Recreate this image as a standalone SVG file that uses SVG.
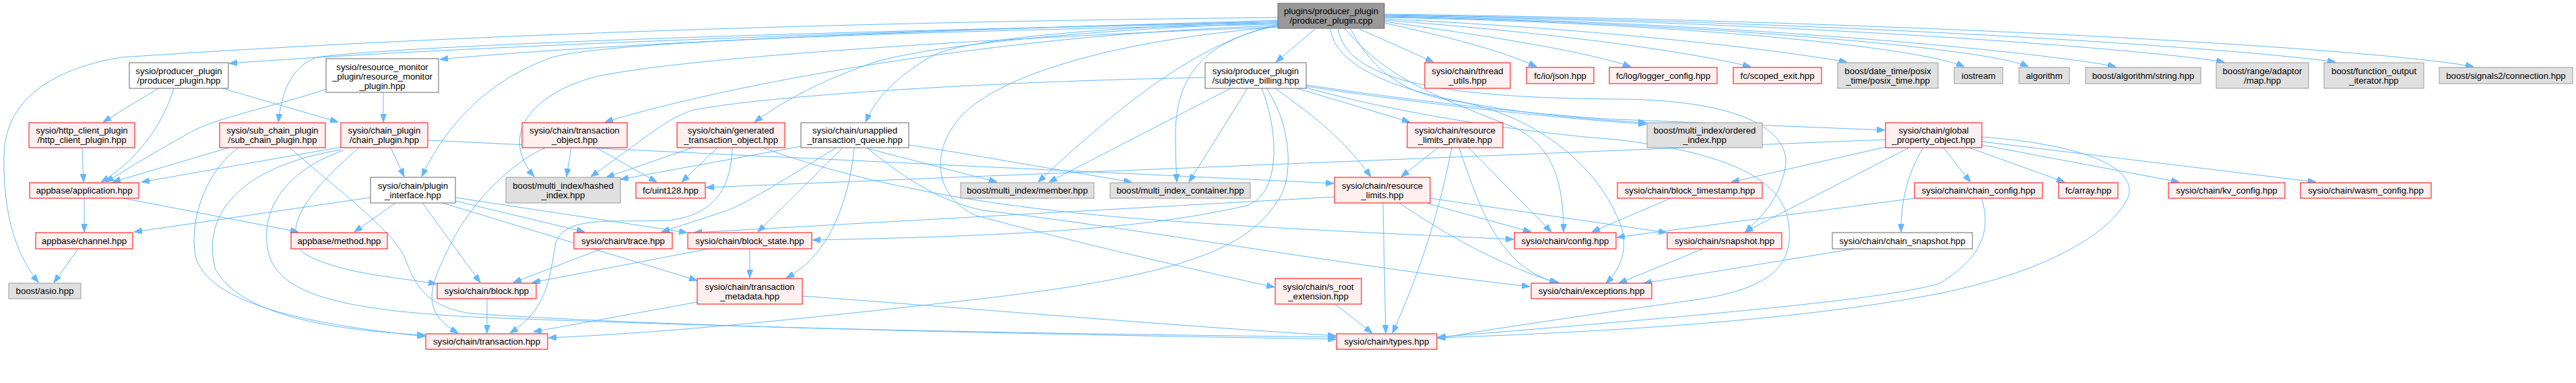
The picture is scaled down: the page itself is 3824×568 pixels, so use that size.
<svg xmlns="http://www.w3.org/2000/svg" width="3824" height="568" viewBox="0 0 3824 568">
<style>
.r{fill:#fff0f0;stroke:#ff0000;stroke-width:1}
.g{fill:#e0e0e0;stroke:#999999;stroke-width:1}
.w{fill:#ffffff;stroke:#666666;stroke-width:1}
.m{fill:#999999;stroke:#666666;stroke-width:1}
text{font-family:"Liberation Sans",Arial,sans-serif;font-size:13.2px;text-anchor:middle;fill:#000}
#edges path{fill:none;stroke:#63b8ff;stroke-width:1;marker-end:url(#ah)}
</style>
<defs>
<marker id="ah" viewBox="0 0 12 9" refX="12" refY="4.5" markerWidth="12" markerHeight="9" markerUnits="userSpaceOnUse" orient="auto">
<path d="M0,0 L12,4.5 L0,9 z" fill="#63b8ff" stroke="#63b8ff" stroke-width="1"/>
</marker>
</defs>
<rect width="3824" height="568" fill="#ffffff"/>
<g id="edges">
<path d="M1897,30 C1600,40 800,60 340,94"/>
<path d="M1897,26 C1300,32 700,50 180,85 C90,100 8,140 6,230 C4,330 30,385 57,419"/>
<path d="M1897,32 C1400,42 900,65 653,88"/>
<path d="M1897,34 C1300,44 620,65 470,85 C430,100 418,140 413,181"/>
<path d="M1897,36 C1300,48 900,62 820,85 C720,120 660,190 626,262"/>
<path d="M1897,38 C1500,50 1100,120 898,181"/>
<path d="M1897,40 C1500,55 1000,85 880,115 C790,140 740,200 793,262"/>
<path d="M1897,34 C1600,44 1360,70 1290,95 C1220,120 1170,145 1120,181"/>
<path d="M1897,32 C1600,42 1420,60 1380,85 C1330,115 1300,145 1285,181"/>
<path d="M1897,36 C1800,60 1700,120 1541,270"/>
<path d="M1897,38 C1790,60 1745,110 1745,200 C1745,230 1746,250 1747,270"/>
<path d="M1897,40 C1650,60 1500,110 1440,160 C1380,210 1380,290 1450,320 C1600,360 1750,395 1892,426"/>
<path d="M1952,43 L1894,92"/>
<path d="M2018,43 L2128,92"/>
<path d="M2055,34 C2150,55 2230,75 2281,99"/>
<path d="M2055,32 C2200,52 2350,75 2421,99"/>
<path d="M2055,30 C2300,48 2500,75 2599,99"/>
<path d="M2055,28 C2350,42 2600,68 2742,92"/>
<path d="M2055,26 C2500,34 2850,70 2916,99"/>
<path d="M2055,25 C2500,33 2950,70 3011,99"/>
<path d="M2055,24 C2600,33 3050,80 3141,99"/>
<path d="M2055,23 C2700,33 3200,75 3302,92"/>
<path d="M2055,22 C2800,33 3350,75 3467,92"/>
<path d="M2055,21 C2900,32 3550,75 3672,99"/>
<path d="M1975,43 C1985,120 2150,165 2444,182"/>
<path d="M1986,43 C2000,110 2100,145 2400,147 C2600,148 2660,200 2650,250 C2640,300 2610,325 2591,344"/>
<path d="M1997,43 C2060,120 2150,150 2250,190 C2310,220 2321,280 2321,344"/>
<path d="M2005,43 C2040,110 2090,140 2160,150 C2260,165 2360,230 2400,320 C2420,360 2410,395 2384,420"/>
<path d="M235,131 L153,181"/>
<path d="M258,131 C240,190 200,240 150,270"/>
<path d="M330,131 L502,181"/>
<path d="M122,219 L124,270"/>
<path d="M125,294 L125,344"/>
<path d="M183,294 L443,344"/>
<path d="M116,369 L80,419"/>
<path d="M569,137 L569,181"/>
<path d="M485,132 C400,160 320,175 285,195 C230,225 190,250 157,270"/>
<path d="M340,219 L167,270"/>
<path d="M354,219 C310,250 280,320 290,380 C310,450 450,480 631,499"/>
<path d="M430,219 C500,280 580,340 600,380 C615,420 630,455 700,465 C1000,485 1500,495 1983,503"/>
<path d="M507,218 L210,270"/>
<path d="M506,222 C340,250 300,330 320,400 C360,470 500,490 631,497"/>
<path d="M510,223 C430,250 380,310 400,380 C420,440 520,460 700,470 C1200,490 1600,495 1983,500"/>
<path d="M532,220 C450,290 420,340 450,375 C500,405 580,410 648,421"/>
<path d="M580,219 L600,262"/>
<path d="M635,208 L1980,272"/>
<path d="M550,293 L199,344"/>
<path d="M587,301 L526,344"/>
<path d="M627,301 L713,419"/>
<path d="M676,298 L868,344"/>
<path d="M676,293 L1020,345"/>
<path d="M657,301 L1035,416"/>
<path d="M848,219 L841,262"/>
<path d="M810,219 C760,240 700,300 670,360 C640,420 620,460 680,494"/>
<path d="M885,219 L975,270"/>
<path d="M893,369 L762,419"/>
<path d="M1052,369 L790,419"/>
<path d="M723,443 L723,494"/>
<path d="M1087,219 C1085,280 1060,320 990,327 C900,330 840,320 825,360 C815,420 810,460 757,494"/>
<path d="M1028,219 L900,263"/>
<path d="M1065,219 L1012,270"/>
<path d="M1132,219 C1300,280 1500,310 1700,325 C1900,340 2100,348 2247,355"/>
<path d="M1189,217 L921,266"/>
<path d="M1240,220 C1150,275 1110,300 1080,312 C1040,325 1010,335 982,344"/>
<path d="M1250,220 L1125,344"/>
<path d="M1268,220 C1260,300 1230,380 1167,412"/>
<path d="M1287,220 L1480,270"/>
<path d="M1349,215 C1400,222 1440,230 1680,270"/>
<path d="M1288,220 C1350,270 1400,300 1460,312 C1700,340 2000,395 2271,425"/>
<path d="M1827,131 L1557,270"/>
<path d="M1852,131 L1765,270"/>
<path d="M1789,115 C1500,120 1150,140 1030,163 C990,175 965,200 877,262"/>
<path d="M1873,131 C1900,200 1900,290 1850,305 C1700,340 1500,350 1206,356"/>
<path d="M1880,131 C1920,190 1920,270 1895,300 C1850,370 1750,410 1440,445 C1200,472 1000,493 814,501"/>
<path d="M1893,131 C1940,165 1990,200 2035,262"/>
<path d="M1925,131 L2093,181"/>
<path d="M1939,128 C2150,160 2350,178 2444,184"/>
<path d="M1939,126 C2100,150 2300,172 2400,177 L2798,193"/>
<path d="M1939,130 C2100,175 2300,200 2400,207 C2550,225 2645,260 2655,330 C2665,400 2620,432 2500,447 C2350,468 2200,490 2134,502"/>
<path d="M2135,219 L2080,262"/>
<path d="M2155,219 C2140,300 2110,400 2067,494"/>
<path d="M2166,219 C2200,320 2230,400 2315,420"/>
<path d="M2180,219 L2303,344"/>
<path d="M2053,301 L2057,494"/>
<path d="M2077,301 C2150,350 2220,390 2312,420"/>
<path d="M2120,302 L2273,344"/>
<path d="M2123,294 L2474,345"/>
<path d="M1981,292 L1030,345"/>
<path d="M1982,451 L2037,494"/>
<path d="M1035,448 L792,492"/>
<path d="M1191,439 C1450,458 1700,480 1983,498"/>
<path d="M1113,369 L1113,412"/>
<path d="M2799,218 L2570,270"/>
<path d="M2834,219 L2590,344"/>
<path d="M2855,219 C2830,260 2822,300 2822,344"/>
<path d="M2885,219 L2925,270"/>
<path d="M2923,219 L3065,270"/>
<path d="M2942,215 L3235,270"/>
<path d="M2942,210 L3438,270"/>
<path d="M2942,203 C3100,215 3170,250 3160,290 C3140,340 3050,400 2880,435 C2700,470 2450,490 2134,501"/>
<path d="M2799,207 L1048,278"/>
<path d="M2942,295 C2955,340 2945,380 2880,420 C2800,445 2500,470 2134,500"/>
<path d="M2842,294 L2400,352"/>
<path d="M2480,294 L2363,344"/>
<path d="M2528,369 L2403,420"/>
<path d="M2752,369 L2440,420"/>
</g>
<g id="n0"><rect class="m" x="1897" y="5" width="158" height="37"/><text x="1976" y="21">plugins/producer_plugin</text><text x="1976" y="35">/producer_plugin.cpp</text></g>
<g id="n1"><rect class="w" x="192" y="93" width="147" height="38"/><text x="265.5" y="109.5">sysio/producer_plugin</text><text x="265.5" y="123.5">/producer_plugin.hpp</text></g>
<g id="n2"><rect class="r" x="43" y="182" width="157" height="37"/><text x="121.5" y="198">sysio/http_client_plugin</text><text x="121.5" y="212">/http_client_plugin.hpp</text></g>
<g id="n3"><rect class="r" x="44" y="271" width="162" height="23"/><text x="125" y="287">appbase/application.hpp</text></g>
<g id="n4"><rect class="r" x="53" y="345" width="144" height="24"/><text x="125" y="361.5">appbase/channel.hpp</text></g>
<g id="n5"><rect class="g" x="13" y="420" width="107" height="23"/><text x="66.5" y="436">boost/asio.hpp</text></g>
<g id="n6"><rect class="r" x="326" y="182" width="157" height="37"/><text x="404.5" y="198">sysio/sub_chain_plugin</text><text x="404.5" y="212">/sub_chain_plugin.hpp</text></g>
<g id="n7"><rect class="r" x="432" y="345" width="143" height="24"/><text x="503.5" y="361.5">appbase/method.hpp</text></g>
<g id="n8"><rect class="w" x="484" y="87" width="167" height="50"/><text x="567.5" y="103.5">sysio/resource_monitor</text><text x="567.5" y="117.5">_plugin/resource_monitor</text><text x="567.5" y="131.5">_plugin.hpp</text></g>
<g id="n9"><rect class="r" x="506" y="182" width="129" height="37"/><text x="570.5" y="198">sysio/chain_plugin</text><text x="570.5" y="212">/chain_plugin.hpp</text></g>
<g id="n10"><rect class="w" x="550" y="263" width="126" height="38"/><text x="613" y="279.5">sysio/chain/plugin</text><text x="613" y="293.5">_interface.hpp</text></g>
<g id="n11"><rect class="r" x="775" y="182" width="156" height="37"/><text x="853" y="198">sysio/chain/transaction</text><text x="853" y="212">_object.hpp</text></g>
<g id="n12"><rect class="g" x="751" y="263" width="170" height="38"/><text x="836" y="279.5">boost/multi_index/hashed</text><text x="836" y="293.5">_index.hpp</text></g>
<g id="n13"><rect class="r" x="944" y="271" width="103" height="23"/><text x="995.5" y="287">fc/uint128.hpp</text></g>
<g id="n14"><rect class="r" x="852" y="345" width="146" height="24"/><text x="925" y="361.5">sysio/chain/trace.hpp</text></g>
<g id="n15"><rect class="r" x="649" y="420" width="147" height="23"/><text x="722.5" y="436">sysio/chain/block.hpp</text></g>
<g id="n16"><rect class="r" x="632" y="495" width="181" height="23"/><text x="722.5" y="511">sysio/chain/transaction.hpp</text></g>
<g id="n17"><rect class="r" x="1005" y="182" width="160" height="37"/><text x="1085" y="198">sysio/chain/generated</text><text x="1085" y="212">_transaction_object.hpp</text></g>
<g id="n18"><rect class="w" x="1189" y="182" width="160" height="37"/><text x="1269" y="198">sysio/chain/unapplied</text><text x="1269" y="212">_transaction_queue.hpp</text></g>
<g id="n19"><rect class="r" x="1021" y="345" width="184" height="24"/><text x="1113" y="361.5">sysio/chain/block_state.hpp</text></g>
<g id="n20"><rect class="r" x="1035" y="413" width="156" height="38"/><text x="1113" y="429.5">sysio/chain/transaction</text><text x="1113" y="443.5">_metadata.hpp</text></g>
<g id="n21"><rect class="g" x="1426" y="271" width="198" height="23"/><text x="1525" y="287">boost/multi_index/member.hpp</text></g>
<g id="n22"><rect class="g" x="1648" y="271" width="208" height="23"/><text x="1752" y="287">boost/multi_index_container.hpp</text></g>
<g id="n23"><rect class="w" x="1789" y="93" width="150" height="38"/><text x="1864" y="109.5">sysio/producer_plugin</text><text x="1864" y="123.5">/subjective_billing.hpp</text></g>
<g id="n24"><rect class="r" x="1893" y="413" width="128" height="38"/><text x="1957" y="429.5">sysio/chain/s_root</text><text x="1957" y="443.5">_extension.hpp</text></g>
<g id="n25"><rect class="r" x="2115" y="93" width="127" height="38"/><text x="2178.5" y="109.5">sysio/chain/thread</text><text x="2178.5" y="123.5">_utils.hpp</text></g>
<g id="n26"><rect class="r" x="2266" y="100" width="100" height="24"/><text x="2316" y="116.5">fc/io/json.hpp</text></g>
<g id="n27"><rect class="r" x="2389" y="100" width="160" height="24"/><text x="2469" y="116.5">fc/log/logger_config.hpp</text></g>
<g id="n28"><rect class="r" x="2089" y="182" width="142" height="37"/><text x="2160" y="198">sysio/chain/resource</text><text x="2160" y="212">_limits_private.hpp</text></g>
<g id="n29"><rect class="r" x="1981" y="263" width="142" height="38"/><text x="2052" y="279.5">sysio/chain/resource</text><text x="2052" y="293.5">_limits.hpp</text></g>
<g id="n30"><rect class="r" x="2248" y="345" width="151" height="24"/><text x="2323.5" y="361.5">sysio/chain/config.hpp</text></g>
<g id="n31"><rect class="r" x="2273" y="420" width="179" height="23"/><text x="2362.5" y="436">sysio/chain/exceptions.hpp</text></g>
<g id="n32"><rect class="r" x="1984" y="495" width="149" height="23"/><text x="2058.5" y="511">sysio/chain/types.hpp</text></g>
<g id="n33"><rect class="r" x="2573" y="100" width="131" height="24"/><text x="2638.5" y="116.5">fc/scoped_exit.hpp</text></g>
<g id="n34"><rect class="g" x="2728" y="93" width="149" height="38"/><text x="2802.5" y="109.5">boost/date_time/posix</text><text x="2802.5" y="123.5">_time/posix_time.hpp</text></g>
<g id="n35"><rect class="g" x="2445" y="182" width="171" height="37"/><text x="2530.5" y="198">boost/multi_index/ordered</text><text x="2530.5" y="212">_index.hpp</text></g>
<g id="n36"><rect class="r" x="2799" y="182" width="143" height="37"/><text x="2870.5" y="198">sysio/chain/global</text><text x="2870.5" y="212">_property_object.hpp</text></g>
<g id="n37"><rect class="r" x="2401" y="271" width="215" height="23"/><text x="2508.5" y="287">sysio/chain/block_timestamp.hpp</text></g>
<g id="n38"><rect class="r" x="2475" y="345" width="170" height="24"/><text x="2560" y="361.5">sysio/chain/snapshot.hpp</text></g>
<g id="n39"><rect class="w" x="2720" y="345" width="208" height="24"/><text x="2824" y="361.5">sysio/chain/chain_snapshot.hpp</text></g>
<g id="n40"><rect class="r" x="2842" y="271" width="190" height="23"/><text x="2937" y="287">sysio/chain/chain_config.hpp</text></g>
<g id="n41"><rect class="g" x="2901" y="100" width="72" height="24"/><text x="2937" y="116.5">iostream</text></g>
<g id="n42"><rect class="g" x="2997" y="100" width="75" height="24"/><text x="3034.5" y="116.5">algorithm</text></g>
<g id="n43"><rect class="g" x="3096" y="100" width="171" height="24"/><text x="3181.5" y="116.5">boost/algorithm/string.hpp</text></g>
<g id="n44"><rect class="g" x="3290" y="93" width="137" height="38"/><text x="3358.5" y="109.5">boost/range/adaptor</text><text x="3358.5" y="123.5">/map.hpp</text></g>
<g id="n45"><rect class="g" x="3450" y="93" width="148" height="38"/><text x="3524" y="109.5">boost/function_output</text><text x="3524" y="123.5">_iterator.hpp</text></g>
<g id="n46"><rect class="g" x="3621" y="100" width="198" height="24"/><text x="3720" y="116.5">boost/signals2/connection.hpp</text></g>
<g id="n47"><rect class="r" x="3056" y="271" width="88" height="23"/><text x="3100" y="287">fc/array.hpp</text></g>
<g id="n48"><rect class="r" x="3219" y="271" width="173" height="23"/><text x="3305.5" y="287">sysio/chain/kv_config.hpp</text></g>
<g id="n49"><rect class="r" x="3415" y="271" width="194" height="23"/><text x="3512" y="287">sysio/chain/wasm_config.hpp</text></g>
</svg>
